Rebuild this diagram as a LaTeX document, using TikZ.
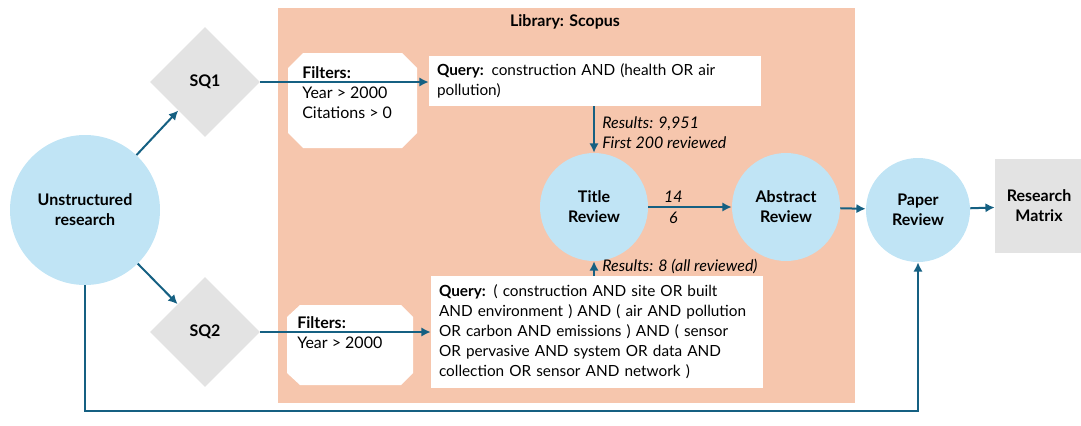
\documentclass[tikz,border=0pt]{standalone}
\usepackage{fontspec}
\setmainfont{Lato}
\usetikzlibrary{shapes.geometric,arrows.meta}
\definecolor{peach}{HTML}{F6C6AD}
\definecolor{lightblue}{HTML}{C0E4F5}
\definecolor{boxgray}{HTML}{E3E3E3}
\definecolor{arrowblue}{HTML}{156082}
\begin{document}
\begin{tikzpicture}[x=0.75pt,y=-0.75pt]
	\tikzset{every node/.style={font=\fontsize{12}{15}\selectfont},
		bubble/.style={circle, fill=lightblue, align=center, inner sep=0pt, font=\fontsize{12}{15}\selectfont\bfseries},
		question/.style={diamond, fill=boxgray, aspect=1, minimum width=82.5pt, minimum height=82.5pt, inner sep=0pt, font=\fontsize{12}{15}\selectfont\bfseries},
		querybox/.style={rectangle, fill=white, align=left, text width=237pt, inner xsep=6pt, inner ysep=0pt, font=\fontsize{11.5}{15}\selectfont},
		note/.style={align=left, inner sep=0pt, font=\fontsize{12}{15}\selectfont\itshape},
		arr/.style={->, >={Latex[length=7pt,width=7pt]}, draw=arrowblue, line width=1.5pt}}
	\useasboundingbox (0,0) rectangle (1081,425);
	\fill[peach] (278,8) rectangle (855,403);
	\node[font=\fontsize{12}{15}\selectfont\bfseries] (lib) at (565,22) {Library: Scopus};

	\node[bubble, minimum size=112.5pt] (1) at (85,210) {Unstructured\\research};
	\node[question] (sq1) at (205,82) {SQ1};
	\node[question] (sq2) at (205,332) {SQ2};

	\fill[white] (303,53) -- (402,53) -- (417,68) -- (417,133) -- (402,148) -- (303,148) -- (288,133) -- (288,68) -- cycle;
	\node[align=left, anchor=north west, inner sep=0pt] (f1t) at (302,66) {\textbf{Filters:}\\Year > 2000\\Citations > 0};
	\fill[white] (300,305) -- (401,305) -- (413,317) -- (413,373) -- (401,385) -- (300,385) -- (287,373) -- (287,317) -- cycle;
	\node[align=left, anchor=north west, inner sep=0pt] (f2t) at (297,316) {\textbf{Filters:}\\Year > 2000};

	\node[querybox, minimum height=37.5pt] (q1) at (595,81) {\textbf{Query:} construction AND (health OR air\\pollution)};
	\node[querybox, minimum height=84pt] (q2) at (597,332) {\textbf{Query:} ( construction AND site OR built\\AND environment ) AND ( air AND pollution\\OR carbon AND emissions ) AND ( sensor\\OR pervasive AND system OR data AND\\collection OR sensor AND network )};

	\node[bubble, minimum size=81pt] (t) at (594,207) {Title\\Review};
	\node[bubble, minimum size=81pt] (a) at (786,207) {Abstract\\Review};
	\node[bubble, minimum size=78pt] (p) at (918,210) {Paper\\Review};
	\node[rectangle, fill=boxgray, minimum width=66pt, minimum height=70.5pt, align=center, font=\fontsize{12}{15}\selectfont\bfseries] (m) at (1039,206) {Research\\Matrix};

	\node[note, anchor=west] (r1) at (602,133) {Results: 9,951\\First 200 reviewed};
	\node[note, anchor=west] (r2) at (602,266) {Results: 8 (all reviewed)};
	\coordinate (c1) at (85,411);

	\draw[arr] (1) -- (sq1);
	\draw[arr] (1) -- (sq2);
	\draw[arr] (sq1.east) -- (sq1.east -| q1.west);
	\draw[arr] (sq2.east) -- (sq2.east -| q2.west);
	\draw[arr] (t |- q1.south) -- (t.north);
	\draw[arr] (t |- q2.north) -- (t.south);
	\draw[arr] (t) -- (a) node[note, pos=0.3, above=3pt] (n14) {14} node[note, pos=0.3, below=3pt] (n6) {6};
	\draw[arr] (a) -- (p);
	\draw[arr] (p) -- (m);
	\draw[arr] (1.south) -- (c1) -| (p.south);
\end{tikzpicture}
\end{document}
